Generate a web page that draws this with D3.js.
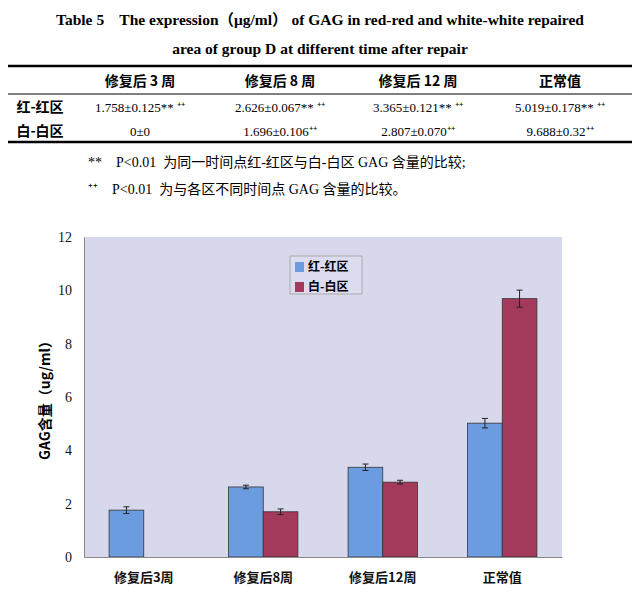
<!DOCTYPE html><html><head><meta charset="utf-8">
<script src="https://d3js.org/d3.v7.min.js"></script>
<style>body{margin:0;background:#fff}text{white-space:pre}</style></head><body><svg id="c" width="640" height="596"></svg>
<script>
const categories=["修复后3周","修复后8周","修复后12周","正常值"];
const seriesNames=["红-红区","白-白区"];
const redRed=[1.758,2.626,3.365,5.019];
const redRedErr=[0.125,0.067,0.121,0.178];
const whiteWhite=[0,1.696,2.807,9.688];
const whiteWhiteErr=[0,0.106,0.070,0.32];
const tableRow1=["1.758±0.125** ⁺⁺","2.626±0.067** ⁺⁺","3.365±0.121** ⁺⁺","5.019±0.178** ⁺⁺"];
const tableRow2=["0±0","1.696±0.106⁺⁺","2.807±0.070⁺⁺","9.688±0.32⁺⁺"];
const yTicks=[0,2,4,6,8,10,12];
const colors=["#6c9ce0","#a33a5c"];

const svg=d3.select("#c");
const serif="'Liberation Serif','Noto Sans CJK SC',serif";
const cjk="'Noto Sans CJK SC',serif";
svg.append("text").attr("x",320).attr("y",25).attr("text-anchor","middle").attr("font-family",serif).attr("font-weight","bold").attr("font-size",15.5).text("Table 5    The expression（μg/ml） of GAG in red-red and white-white repaired");
svg.append("text").attr("x",320).attr("y",54).attr("text-anchor","middle").attr("font-family",serif).attr("font-weight","bold").attr("font-size",15.5).text("area of group D at different time after repair");
[[66,2.5],[94,1],[142,2.5]].forEach(([yy,w])=>svg.append("line").attr("x1",8).attr("x2",632).attr("y1",yy).attr("y2",yy).attr("stroke","#000").attr("stroke-width",w));
const colX=[140,280,418,560];
categories.forEach((c,i)=>svg.append("text").attr("x",colX[i]).attr("y",86).attr("text-anchor","middle").attr("font-family",cjk).attr("font-weight","bold").attr("font-size",14).text(c.replace(/(\d+)/," $1 ")));
[["红-红区",tableRow1,112],["白-白区",tableRow2,136]].forEach(([l,r,yy])=>{
 svg.append("text").attr("x",40).attr("y",yy).attr("text-anchor","middle").attr("font-family",cjk).attr("font-weight","bold").attr("font-size",14).text(l);
 r.forEach((t,i)=>svg.append("text").attr("x",colX[i]).attr("y",yy).attr("text-anchor","middle").attr("font-family",serif).attr("font-size",13).text(t));
});
svg.append("text").attr("x",88).attr("y",167).attr("font-family",serif).attr("font-size",14).text("**    P<0.01  为同一时间点红-红区与白-白区 GAG 含量的比较;");
svg.append("text").attr("x",88).attr("y",194).attr("font-family",serif).attr("font-size",14).text("⁺⁺    P<0.01  为与各区不同时间点 GAG 含量的比较。");

const L=84,R=562,T=237,B=557;
const x=d3.scaleBand().domain(categories).range([L,R]).paddingInner(0.42).paddingOuter(0.21);
const x1=d3.scaleBand().domain([0,1]).range([0,x.bandwidth()]);
const y=d3.scaleLinear().domain([0,12]).range([B,T]);
svg.append("rect").attr("x",L).attr("y",T).attr("width",R-L).attr("height",B-T).attr("fill","#d8d8ec");
const g=svg.append("g");
const data=[[redRed,redRedErr],[whiteWhite,whiteWhiteErr]];
data.forEach(([v,e],s)=>{
 categories.forEach((c,i)=>{
  if(v[i]<=0)return;
  const bx=x(c)+x1(s),bw=x1.bandwidth();
  g.append("rect").attr("x",bx).attr("y",y(v[i])).attr("width",bw).attr("height",B-y(v[i])).attr("fill",colors[s]).attr("stroke","#333").attr("stroke-width",0.8);
  const cx=bx+bw/2;
  g.append("line").attr("x1",cx).attr("x2",cx).attr("y1",y(v[i]+e[i])).attr("y2",y(v[i]-e[i])).attr("stroke","#222");
  [v[i]+e[i],v[i]-e[i]].forEach(t=>g.append("line").attr("x1",cx-3).attr("x2",cx+3).attr("y1",y(t)).attr("y2",y(t)).attr("stroke","#222"));
 });
});
const ya=svg.append("g").attr("transform",`translate(${L},0)`).call(d3.axisLeft(y).tickValues(yTicks).tickSize(0).tickPadding(12));
ya.select(".domain").attr("stroke","#888");
ya.selectAll("text").attr("font-family",serif).attr("font-size",14).attr("fill","#111");
const xa=svg.append("g").attr("transform",`translate(0,${B})`).call(d3.axisBottom(x).tickSize(0).tickPadding(16));
xa.select(".domain").attr("stroke","#888");
xa.selectAll("text").attr("font-family",cjk).attr("font-weight","bold").attr("font-size",13).attr("fill","#111");
svg.append("text").attr("transform",`translate(50,397) rotate(-90)`).attr("text-anchor","middle").attr("font-family",cjk).attr("font-weight","bold").attr("font-size",14).text("GAG含量（ug/ml）");
const lg=svg.append("g").attr("transform","translate(290,256)");
lg.append("rect").attr("width",72).attr("height",38).attr("fill","#dcdcf0").attr("stroke","#aaa");
seriesNames.forEach((n,i)=>{
 lg.append("rect").attr("x",5).attr("y",6+i*20).attr("width",9).attr("height",10).attr("fill",colors[i]);
 lg.append("text").attr("x",18).attr("y",15+i*20).attr("font-family",cjk).attr("font-weight","bold").attr("font-size",12).text(n);
});
</script></body></html>
